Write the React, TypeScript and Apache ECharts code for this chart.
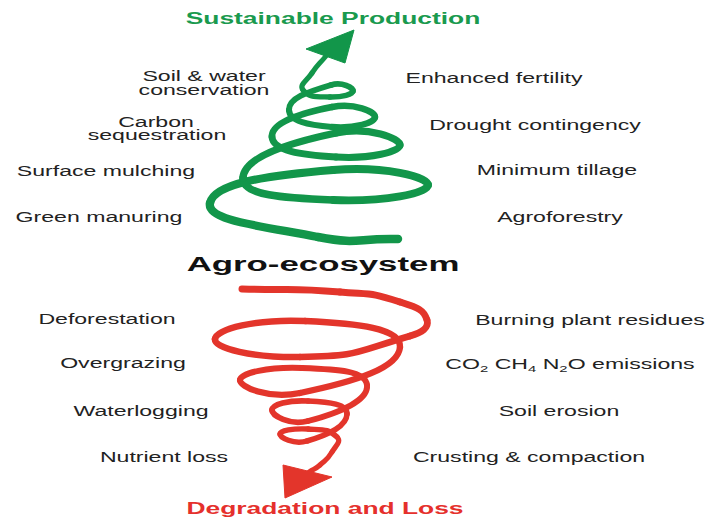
import React, { useEffect, useRef } from 'react';
import * as echarts from 'echarts';

const W = 708;
const H = 519;

// Key points of the rising (green) spiral, from bottom start to arrow shaft
const greenX = [398, 318, 210, 333, 428, 333, 243, 336, 400, 336, 272, 332, 375, 332, 289, 331, 353, 330, 303, 312, 326];
const greenY = [239, 237, 203, 170, 185, 200, 178, 133, 145, 157, 137, 107, 117, 127, 110, 85, 91, 97, 90, 73, 56];
const greenArrowX = [306, 354, 345];
const greenArrowY = [49, 30, 63];

// Key points of the descending (red) spiral
const redX = [242, 340, 400, 427, 410, 300, 215, 305, 400, 300, 240, 302, 367, 308, 272, 308, 347, 307, 280, 308, 337, 332, 320, 309];
const redY = [289, 292, 302, 320, 336, 357, 339, 321, 347, 393, 380, 368, 385, 421, 410, 401, 414, 441, 434, 429, 437, 452, 465, 472];
const redArrowX = [283, 332, 285];
const redArrowY = [465, 477, 498];

// Texts
const topTitle = 'Sustainable Production';
const midTitle = 'Agro-ecosystem';
const bottomTitle = 'Degradation and Loss';
const topLeftLabels = ['Soil & water', 'conservation', 'Carbon', 'sequestration', 'Surface mulching', 'Green manuring'];
const topRightLabels = ['Enhanced fertility', 'Drought contingency', 'Minimum tillage', 'Agroforestry'];
const bottomLeftLabels = ['Deforestation', 'Overgrazing', 'Waterlogging', 'Nutrient loss'];
const bottomRightLabels = ['Burning plant residues', 'CO{s|2} CH{s|4} N{s|2}O emissions', 'Soil erosion', 'Crusting & compaction'];

// Layout (label centres)
const topLeftPos = [[204, 76], [204, 90], [156, 122], [157, 135], [106, 171], [99, 217]];
const topRightPos = [[494, 78], [535, 125], [557, 170], [560, 217]];
const bottomLeftPos = [[107, 319], [123, 363], [141, 411], [164, 457]];
const bottomRightPos = [[590, 320], [570, 364], [559, 411], [529, 457]];

const GREEN = '#12964a';
const RED = '#e3352b';
const FONT = '"Liberation Sans", Arial, Helvetica, sans-serif';

function spiralSeries(xs: number[], ys: number[], color: string, w0: number, w1: number) {
  const n = xs.length;
  return {
    type: 'custom',
    coordinateSystem: 'cartesian2d',
    silent: true,
    data: xs.map((x, i) => [x, ys[i]]),
    renderItem: (params: any, api: any) => {
      const i = params.dataIndex;
      if (i >= n - 1) return null;
      const P = (k: number) => {
        const j = Math.max(0, Math.min(n - 1, k));
        return api.coord([xs[j], ys[j]]);
      };
      const p0 = P(i - 1), p1 = P(i), p2 = P(i + 1), p3 = P(i + 2);
      const s = 0.55;
      const d = (a: number[], b: number[]) => Math.hypot(a[0] - b[0], a[1] - b[1]);
      let t1 = d(p1, p0) + d(p2, p1);
      const r1 = t1 ? d(p2, p1) / t1 : 0.5;
      const c1 = [p1[0] + (p2[0] - p0[0]) * s * r1, p1[1] + (p2[1] - p0[1]) * s * r1];
      let t2 = d(p2, p1) + d(p3, p2);
      const r2 = t2 ? d(p2, p1) / t2 : 0.5;
      const c2 = [p2[0] - (p3[0] - p1[0]) * s * r2, p2[1] - (p3[1] - p1[1]) * s * r2];
      const t = i / (n - 2);
      return {
        type: 'bezierCurve',
        shape: { x1: p1[0], y1: p1[1], x2: p2[0], y2: p2[1], cpx1: c1[0], cpy1: c1[1], cpx2: c2[0], cpy2: c2[1] },
        style: { stroke: color, lineWidth: w0 + (w1 - w0) * t, fill: 'none', lineCap: 'round', lineJoin: 'round' },
      };
    },
  };
}

function arrowSeries(xs: number[], ys: number[], color: string) {
  return {
    type: 'custom',
    coordinateSystem: 'cartesian2d',
    silent: true,
    data: xs.map((x, i) => [x, ys[i]]),
    renderItem: (params: any, api: any) => {
      if (params.dataIndex !== 0) return null;
      return {
        type: 'polygon',
        shape: { points: xs.map((x, i) => api.coord([x, ys[i]])) },
        style: { fill: color, stroke: color, lineWidth: 1, lineJoin: 'round' },
      };
    },
  };
}

function label(text: string, pos: number[], size: number, bold: boolean, color: string, sx: number, rich?: any) {
  return {
    type: 'text',
    x: pos[0],
    y: pos[1],
    scaleX: sx,
    silent: true,
    style: {
      text,
      x: 0,
      y: 0,
      align: 'center',
      verticalAlign: 'middle',
      fill: color,
      fontSize: size,
      fontWeight: bold ? 'bold' : 'normal',
      fontFamily: FONT,
      ...(rich ? { rich, lineHeight: 20 } : {}),
    },
  };
}

export default function App() {
  const ref = useRef<HTMLDivElement>(null);
  useEffect(() => {
    if (!ref.current) return;
    const chart = echarts.init(ref.current, undefined, { renderer: 'svg' });
    const body = '#222222';
    const SX = 1.65;
    const rich = {
      s: { fontSize: 9, lineHeight: 20, verticalAlign: 'bottom', fill: body, fontFamily: FONT },
    };
    const graphics: any[] = [
      label(topTitle, [333, 19], 16, true, '#1a9a4e', SX),
      label(midTitle, [323, 264], 20, true, '#111111', 1.74),
      label(bottomTitle, [325, 509], 16, true, '#e5302c', SX),
      ...topLeftLabels.map((t, i) => label(t, topLeftPos[i], 14, false, body, SX)),
      ...topRightLabels.map((t, i) => label(t, topRightPos[i], 14, false, body, SX)),
      ...bottomLeftLabels.map((t, i) => label(t, bottomLeftPos[i], 14, false, body, SX)),
      ...bottomRightLabels.map((t, i) =>
        label(t, bottomRightPos[i], 14, false, body, SX, t.includes('{') ? rich : undefined)
      ),
    ];
    chart.setOption({
      animation: false,
      backgroundColor: '#ffffff',
      grid: { left: 0, right: 0, top: 0, bottom: 0 },
      xAxis: { type: 'value', min: 0, max: W, show: false },
      yAxis: { type: 'value', min: 0, max: H, inverse: true, show: false },
      series: [
        spiralSeries(greenX, greenY, GREEN, 8.5, 5),
        arrowSeries(greenArrowX, greenArrowY, GREEN),
        spiralSeries(redX, redY, RED, 7, 5),
        arrowSeries(redArrowX, redArrowY, RED),
      ],
      graphic: graphics,
    });
    return () => chart.dispose();
  }, []);
  return (
    <div
      ref={ref}
      style={{ position: 'absolute', left: 0, top: 0, width: W, height: H, background: '#fff' }}
    />
  );
}
